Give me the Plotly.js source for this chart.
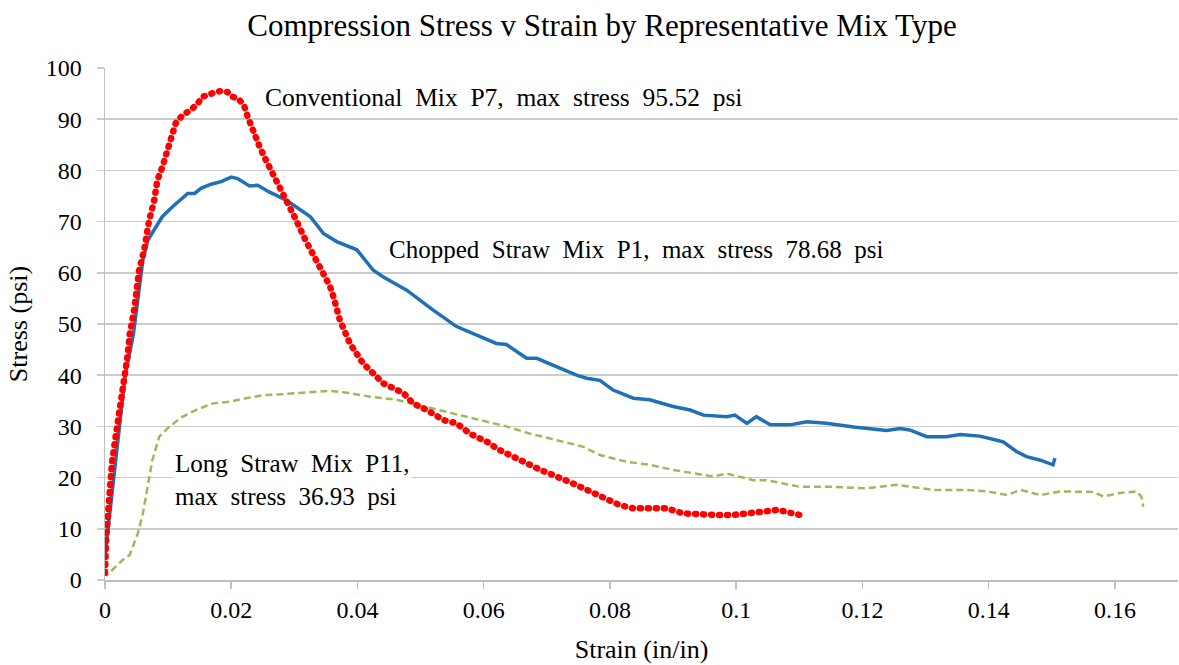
<!DOCTYPE html>
<html>
<head>
<meta charset="utf-8">
<script src="https://cdn.plot.ly/plotly-3.0.1.min.js"></script>
<style>html,body{margin:0;padding:0;background:#fff;}#chart{width:1179px;height:665px;}</style>
</head>
<body>
<div id="chart"></div>
<script>
// Conventional Mix P7
const p7Strain = [0,0,0.00016,0.0003,0.0005,0.0007,0.0009,0.0011,0.0016,0.0019,0.0023,0.0025,0.0031,0.0034,0.0036,0.0039,0.0047,0.005,0.0054,0.0062,0.0066,0.007,0.0078,0.0083,0.0091,0.0099,0.0105,0.0112,0.0123,0.0136,0.0147,0.0155,0.0171,0.0184,0.0194,0.0202,0.0213,0.0221,0.0226,0.0234,0.0245,0.0255,0.0266,0.0276,0.029,0.03,0.0318,0.0337,0.0356,0.0362,0.0372,0.0388,0.0409,0.0441,0.0473,0.0488,0.051,0.0536,0.0557,0.0578,0.061,0.062,0.069,0.0737,0.0784,0.0816,0.0837,0.0863,0.089,0.0916,0.0943,0.0969,0.0995,0.1022,0.1048,0.1066,0.109,0.1101];
const p7Stress = [1.4,3.6,7.3,10.1,13.7,17.6,20.2,22.8,27.3,30,33.2,36.5,40,42.3,44,47.9,53.4,57.3,60.5,64.5,67.7,70.3,74.2,78.1,80.7,84,86.6,89.2,90.8,91.8,93.1,94.4,95.1,95.52,95.3,94.4,93.8,92.4,90.5,87.9,84.6,82,79.4,76.8,73.6,71,66.3,61.8,57.5,55.3,50.8,46.2,42.3,38.4,36.5,34.5,33.2,31.25,30.6,28.6,26.7,25.7,21.5,19.1,16.3,14.6,14,14,14,13,12.7,12.7,12.7,13,13.3,13.7,13,12.7];

// Chopped Straw Mix P1
const p1Strain = [0,0.0022,0.0032,0.0045,0.0054,0.006,0.0068,0.0081,0.0091,0.0107,0.0118,0.0131,0.0142,0.0152,0.0168,0.0184,0.02,0.021,0.0229,0.0242,0.026,0.0287,0.0325,0.0346,0.0367,0.0399,0.0425,0.0441,0.0478,0.052,0.0557,0.0583,0.062,0.0636,0.0668,0.0684,0.0716,0.0747,0.0763,0.0784,0.0805,0.0837,0.0863,0.09,0.0927,0.0948,0.0985,0.0998,0.1017,0.1032,0.1054,0.1085,0.1112,0.1143,0.1186,0.1238,0.126,0.1275,0.1302,0.1333,0.1355,0.1386,0.1413,0.1423,0.1444,0.146,0.1482,0.1502,0.1505];
const p1Stress = [4.6,30,40,48,56,62.5,66.4,69,71,72.9,74.2,75.5,75.5,76.5,77.3,77.8,78.68,78.4,76.95,77.1,75.8,74.2,71,67.7,66.1,64.5,60.5,59.2,56.6,52.7,49.5,48.2,46.2,46,43.3,43.3,41.7,40,39.4,39,37.1,35.5,35.2,33.9,33.2,32.2,31.9,32.2,30.6,31.9,30.3,30.3,30.9,30.6,29.9,29.2,29.6,29.3,28,28,28.4,28.1,27.3,27,25.1,24.1,23.4,22.5,23.8];

// Long Straw Mix P11
const p11Strain = [0,0.0004,0.0012,0.0028,0.0039,0.0052,0.006,0.0068,0.0075,0.0086,0.0102,0.0123,0.0144,0.0171,0.0197,0.0223,0.025,0.0281,0.032,0.0356,0.0388,0.042,0.0462,0.0504,0.0547,0.0594,0.0636,0.0673,0.0716,0.0758,0.0784,0.0826,0.0863,0.09,0.0964,0.0985,0.1027,0.1048,0.1101,0.1154,0.1207,0.1254,0.1312,0.1365,0.1397,0.1429,0.145,0.1482,0.1513,0.1566,0.1582,0.1608,0.1634,0.1642,0.1645];
const p11Stress = [2,1,2,3.9,4.9,9.1,13,18.2,23.4,28,30,31.9,33.2,34.5,34.8,35.5,36.1,36.3,36.7,36.93,36.5,35.8,35.2,33.9,32.6,31.25,30,28.6,27.3,26,24.4,23.1,22.5,21.5,20.2,20.8,19.5,19.5,18.2,18.2,17.9,18.6,17.6,17.6,17.3,16.6,17.6,16.6,17.3,17.2,16.3,17,17.3,16.3,14.3];

const xTickVals = [0,0.02,0.04,0.06,0.08,0.1,0.12,0.14,0.16];
const xTickText = ['0','0.02','0.04','0.06','0.08','0.1','0.12','0.14','0.16'];
const yTickVals = [0,10,20,30,40,50,60,70,80,90,100];

const titleText = 'Compression Stress v Strain by Representative Mix Type';
const noteP7 = 'Conventional  Mix  P7,  max  stress  95.52  psi';
const noteP1 = 'Chopped  Straw  Mix  P1,  max  stress  78.68  psi';
const noteP11 = 'Long  Straw  Mix  P11,<br>max  stress  36.93  psi';

const serif = 'Liberation Serif';

const traces = [
  {x: p11Strain, y: p11Stress, type: 'scatter', mode: 'lines', name: 'P11',
   line: {color: '#9bbb59', width: 2.5, dash: '7px,4px'}},
  {x: p1Strain, y: p1Stress, type: 'scatter', mode: 'lines', name: 'P1',
   line: {color: '#1f70b8', width: 3.5}},
  {x: p7Strain, y: p7Stress, type: 'scatter', mode: 'lines', name: 'P7',
   line: {color: '#ff0000', width: 6.5, dash: '1px,7px'}}
];

const layout = {
  width: 1179, height: 665,
  margin: {l: 105, r: 1, t: 68, b: 85},
  paper_bgcolor: '#ffffff', plot_bgcolor: '#ffffff',
  showlegend: false,
  font: {family: serif, color: '#000000', size: 24},
  title: {text: titleText, font: {family: serif, size: 31, color: '#000'},
          x: 602/1179, xanchor: 'center', y: 1 - 25/665, yanchor: 'middle'},
  xaxis: {range: [0, 0.17], tickmode: 'array', tickvals: xTickVals, ticktext: xTickText,
          showgrid: false, zeroline: false, showline: true, linecolor: '#bfbfbf', linewidth: 2,
          ticks: 'outside', ticklen: 7, tickcolor: '#bfbfbf', tickwidth: 1.5,
          tickfont: {size: 24},
          title: {text: 'Strain (in/in)', font: {size: 26}, standoff: 18}},
  yaxis: {range: [0, 100], tickvals: yTickVals,
          showgrid: true, gridcolor: '#cccccc', gridwidth: 1.5, zeroline: false,
          showline: true, linecolor: '#bfbfbf', linewidth: 1.5,
          ticks: 'outside', ticklen: 7, tickcolor: '#cccccc', tickwidth: 1.5, ticklabelstandoff: 10,
          tickfont: {size: 24},
          title: {text: 'Stress (psi)', font: {size: 26}, standoff: 10}},
  annotations: [
    {x: 0.025, y: 94.3, xref: 'x', yref: 'y', text: noteP7, showarrow: false, xanchor: 'left', yanchor: 'middle',
     font: {family: serif, size: 25.5, color: '#000'}, bgcolor: '#ffffff'},
    {x: 0.0447, y: 64.5, xref: 'x', yref: 'y', text: noteP1, showarrow: false, xanchor: 'left', yanchor: 'middle',
     font: {family: serif, size: 25, color: '#000'}},
    {x: 0.0108, y: 19.5, xref: 'x', yref: 'y', text: noteP11, showarrow: false, xanchor: 'left', yanchor: 'middle', align: 'left',
     font: {family: serif, size: 25, color: '#000'}, bgcolor: '#ffffff'}
  ]
};

function finishStyles(gd) {
  // round the dash caps of the dotted series so it reads as a chain of dots
  const traceGroups = gd.querySelectorAll('.scatterlayer .trace');
  const red = traceGroups[2] && traceGroups[2].querySelector('path.js-line');
  if (red) red.style.strokeLinecap = 'round';
  gd.querySelectorAll('.xtick text, .ytick text, .g-xtitle text, .g-ytitle text').forEach(function (t) {
    t.style.fontFamily = '"Liberation Serif", serif';
  });
}

Plotly.newPlot('chart', traces, layout, {displayModeBar: false, staticPlot: true}).then(function (gd) {
  finishStyles(gd);
  gd.on('plotly_afterplot', function () { finishStyles(gd); });
  requestAnimationFrame(function () { finishStyles(gd); });
  setTimeout(function () { finishStyles(gd); }, 100);
  setTimeout(function () { finishStyles(gd); }, 400);
});
</script>
</body>
</html>
